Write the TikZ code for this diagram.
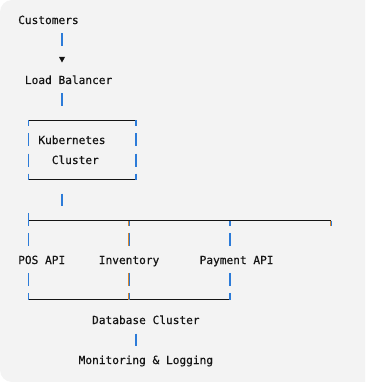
\documentclass[tikz,border=0pt]{standalone}
\usepackage{fontspec}
\setmonofont[FakeBold=0.5]{DejaVu Sans Mono}
\definecolor{bgc}{HTML}{F3F3F3}
\definecolor{ink}{HTML}{141414}
\definecolor{barblue}{HTML}{2C7BD8}
\definecolor{barorange}{HTML}{D9862A}
\begin{document}
\begin{tikzpicture}[x=1pt,y=-1pt,
  lbl/.style={anchor=base west,inner sep=0pt,text=ink,font=\ttfamily\fontsize{11.16}{13}\selectfont},
  hline/.style={draw=ink,line width=1pt},
  vb/.style={draw=barblue,line width=1.7pt},
  vbo/.style={draw=barorange,line width=1.2pt},
  vbb/.style={draw=barblue,line width=1.2pt}]
\useasboundingbox (0,0) rectangle (365,382);
% background card
\fill[bgc] (365,0) [rounded corners=12pt] -- (0,0) -- (0,382) [sharp corners] -- (365,382) -- cycle;
% text nodes
\node[lbl] (cust) at (18,24) {Customers};
\node[lbl] (lb) at (24.72,84) {Load Balancer};
\node[lbl] (kub) at (38.16,144) {Kubernetes};
\node[lbl] (clu) at (51.6,164) {Cluster};
\node[lbl] (pos) at (18,264) {POS API};
\node[lbl] (inv) at (98.64,264) {Inventory};
\node[lbl] (pay) at (199.44,264) {Payment API};
\node[lbl] (db) at (91.92,324) {Database Cluster};
\node[lbl] (mon) at (78.48,364) {Monitoring \& Logging};
% column coordinates
\coordinate (cA) at (28.5,0);   % col 1
\coordinate (cB) at (62,0);     % col 6
\coordinate (cC) at (129,0);    % col 16
\coordinate (cD) at (136,0);    % col 17
\coordinate (cE) at (230,0);    % col 31
\coordinate (cF) at (331,0);    % col 46
% Customers -> Load Balancer
\draw[vb] (cB |- 0,33.5) -- (cB |- 0,46);
\fill[ink] ([xshift=-3pt]cB |- 0,57) -- ([xshift=3pt]cB |- 0,57) -- (cB |- 0,62.5) -- cycle;
% Load Balancer -> Kubernetes box
\draw[vb] (cB |- 0,93.5) -- (cB |- 0,106);
% Kubernetes box
\coordinate (boxtl) at (cA |- 0,120.5);
\coordinate (boxtr) at (cD |- 0,120.5);
\coordinate (boxbl) at (cA |- 0,179.5);
\coordinate (boxbr) at (cD |- 0,179.5);
\draw[hline] (boxtl) -- (boxtr);
\draw[hline] (boxbl) -- (boxbr);
\draw[vb,dash pattern=on 13pt off 7pt,dash phase=7pt] (boxtl) -- (boxbl);
\draw[vb,dash pattern=on 13pt off 7pt,dash phase=7pt] (boxtr) -- (boxbr);
% box -> bus
\draw[vb] (cB |- 0,193.5) -- (cB |- 0,206);
% bus line
\coordinate (busL) at (cA |- 0,220.5);
\coordinate (busR) at (cF |- 0,220.5);
\draw[hline] (busL) -- (busR);
% bottom join line
\coordinate (botL) at (cA |- 0,299.5);
\coordinate (botR) at (cE |- 0,299.5);
\draw[hline] (botL) -- (botR);
% column A (POS API)
\draw[vb] (cA |- 0,213) -- (cA |- 0,226);
\draw[vb] (cA |- 0,233) -- (cA |- 0,246);
\draw[vb] (cA |- 0,273) -- (cA |- 0,286);
\draw[vb] (cA |- 0,293) -- (botL);
% column C (Inventory) two-tone
\foreach \ya/\yb in {220.5/226,233/246,273/286,293/299.5}{
  \draw[vbo] ([xshift=-0.6pt]cC |- 0,\ya) -- ([xshift=-0.6pt]cC |- 0,\yb);
  \draw[vbb] ([xshift=0.6pt]cC |- 0,\ya) -- ([xshift=0.6pt]cC |- 0,\yb);
}
% column E (Payment API)
\draw[vb] (cE |- 0,220.5) -- (cE |- 0,226);
\draw[vb] (cE |- 0,233) -- (cE |- 0,246);
\draw[vb] (cE |- 0,273) -- (cE |- 0,286);
\draw[vb] (cE |- 0,293) -- (botR);
% right end of bus
\draw[vbo] ([xshift=-0.6pt]busR) -- ([xshift=-0.6pt]cF |- 0,226);
\draw[vbb] ([xshift=0.6pt]busR) -- ([xshift=0.6pt]cF |- 0,226);
% Database -> Monitoring
\draw[vb] (cD |- 0,333.5) -- (cD |- 0,346);
\end{tikzpicture}
\end{document}
